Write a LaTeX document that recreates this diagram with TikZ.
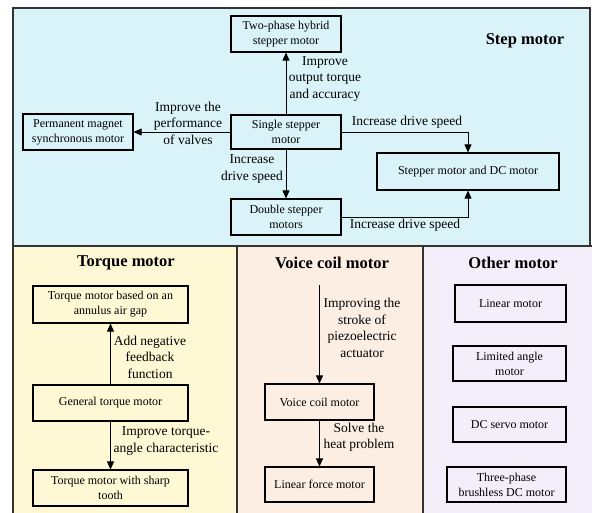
\documentclass[tikz,border=0pt]{standalone}
\usepackage{fontspec}
\setmainfont{Liberation Serif}
\usetikzlibrary{arrows.meta}
\definecolor{stepbg}{HTML}{DAF3F8}
\definecolor{torquebg}{HTML}{FFF8D5}
\definecolor{voicebg}{HTML}{FDEEE3}
\definecolor{otherbg}{HTML}{F3EEF9}
\definecolor{edge}{HTML}{333333}
\tikzset{
  box/.style={draw=black, line width=1.1pt, align=center, inner sep=1pt,
    font=\fontsize{12}{15}\selectfont},
  lab/.style={align=center, inner sep=0pt, font=\fontsize{13.5}{16.5}\selectfont},
  ttl/.style={inner sep=0pt, font=\fontsize{16.5}{18}\selectfont\bfseries},
  arr/.style={draw=black, line width=0.8pt, -{Triangle[length=8pt,width=7pt]}},
  panel/.style={draw=edge, line width=1.3pt}
}
\begin{document}
\begin{tikzpicture}[x=1pt,y=-1pt]
\useasboundingbox (0,0) rectangle (592,512);
% panels
\path[panel, fill=stepbg] (13,8) rectangle (590,246);
\path[panel, fill=torquebg] (13,246) rectangle (237,530);
\path[panel, fill=voicebg] (237,246) rectangle (423,530);
\path[panel, fill=otherbg] (423,246) rectangle (610,530);
% titles
\node[ttl] (tstep) at (525,41) {Step motor};
\node[ttl] (ttorque) at (126,263) {Torque motor};
\node[ttl] (tvoice) at (332,263) {Voice coil motor};
\node[ttl] (tother) at (513,263) {Other motor};
% step motor boxes
\node[box, minimum width=110pt, minimum height=36pt] (two) at (286,34) {Two-phase hybrid\\stepper motor};
\node[box, minimum width=110pt, minimum height=34pt] (single) at (286,132) {Single stepper\\motor};
\node[box, minimum width=110pt, minimum height=36pt] (double) at (286,217) {Double stepper\\motors};
\node[box, minimum width=110pt, minimum height=36pt] (pm) at (78,132) {Permanent magnet\\synchronous motor};
\node[box, minimum width=182pt, minimum height=37pt] (sdc) at (468,171.5) {Stepper motor and DC motor};
% step motor arrows
\draw[arr] (single) -- (two);
\draw[arr] (single) -- (pm);
\draw[arr] (single) -- (double);
\draw[arr] (single.east) -| (sdc.north);
\draw[arr] (double.east) -| (sdc.south);
\node[lab] (l1) at (325,79) {Improve\\output torque\\and accuracy};
\node[lab] (l2) at (188,123) {Improve the\\performance\\of valves};
\node[lab] (l3) at (252,169) {Increase\\drive speed};
\node[lab] (l4) at (407,122) {Increase drive speed};
\node[lab] (l5) at (405,225) {Increase drive speed};
% torque motor
\node[box, minimum width=155pt, minimum height=37pt] (annulus) at (110.5,304.5) {Torque motor based on an\\annulus air gap};
\node[box, minimum width=155pt, minimum height=36pt] (general) at (110.5,403) {General torque motor};
\node[box, minimum width=155pt, minimum height=36pt] (sharp) at (110.5,488) {Torque motor with sharp\\tooth};
\draw[arr] (general) -- (annulus);
\draw[arr] (general) -- (sharp);
\node[lab] (l6) at (150,357) {Add negative\\feedback\\function};
\node[lab] (l7) at (166,441) {Improve torque-\\angle characteristic};
% voice coil motor
\node[box, minimum width=109pt, minimum height=36pt] (vcm) at (319.5,402) {Voice coil motor};
\node[box, minimum width=109pt, minimum height=35pt] (lfm) at (319.5,484.5) {Linear force motor};
\coordinate (vstart) at (319.5,285);
\draw[arr] (vstart) -- (vcm);
\draw[arr] (vcm) -- (lfm);
\node[lab] (l8) at (362,328) {Improving the\\stroke of\\piezoelectric\\actuator};
\node[lab] (l9) at (359,437) {Solve the\\heat problem};
% other motor
\node[box, minimum width=111pt, minimum height=37pt] (lin) at (510.5,303.5) {Linear motor};
\node[box, minimum width=113pt, minimum height=35pt] (lim) at (509.5,363.5) {Limited angle\\motor};
\node[box, minimum width=113pt, minimum height=35pt] (dcs) at (509.5,424.5) {DC servo motor};
\node[box, minimum width=119pt, minimum height=35pt] (three) at (506.5,484.5) {Three-phase\\brushless DC motor};
\end{tikzpicture}
\end{document}
